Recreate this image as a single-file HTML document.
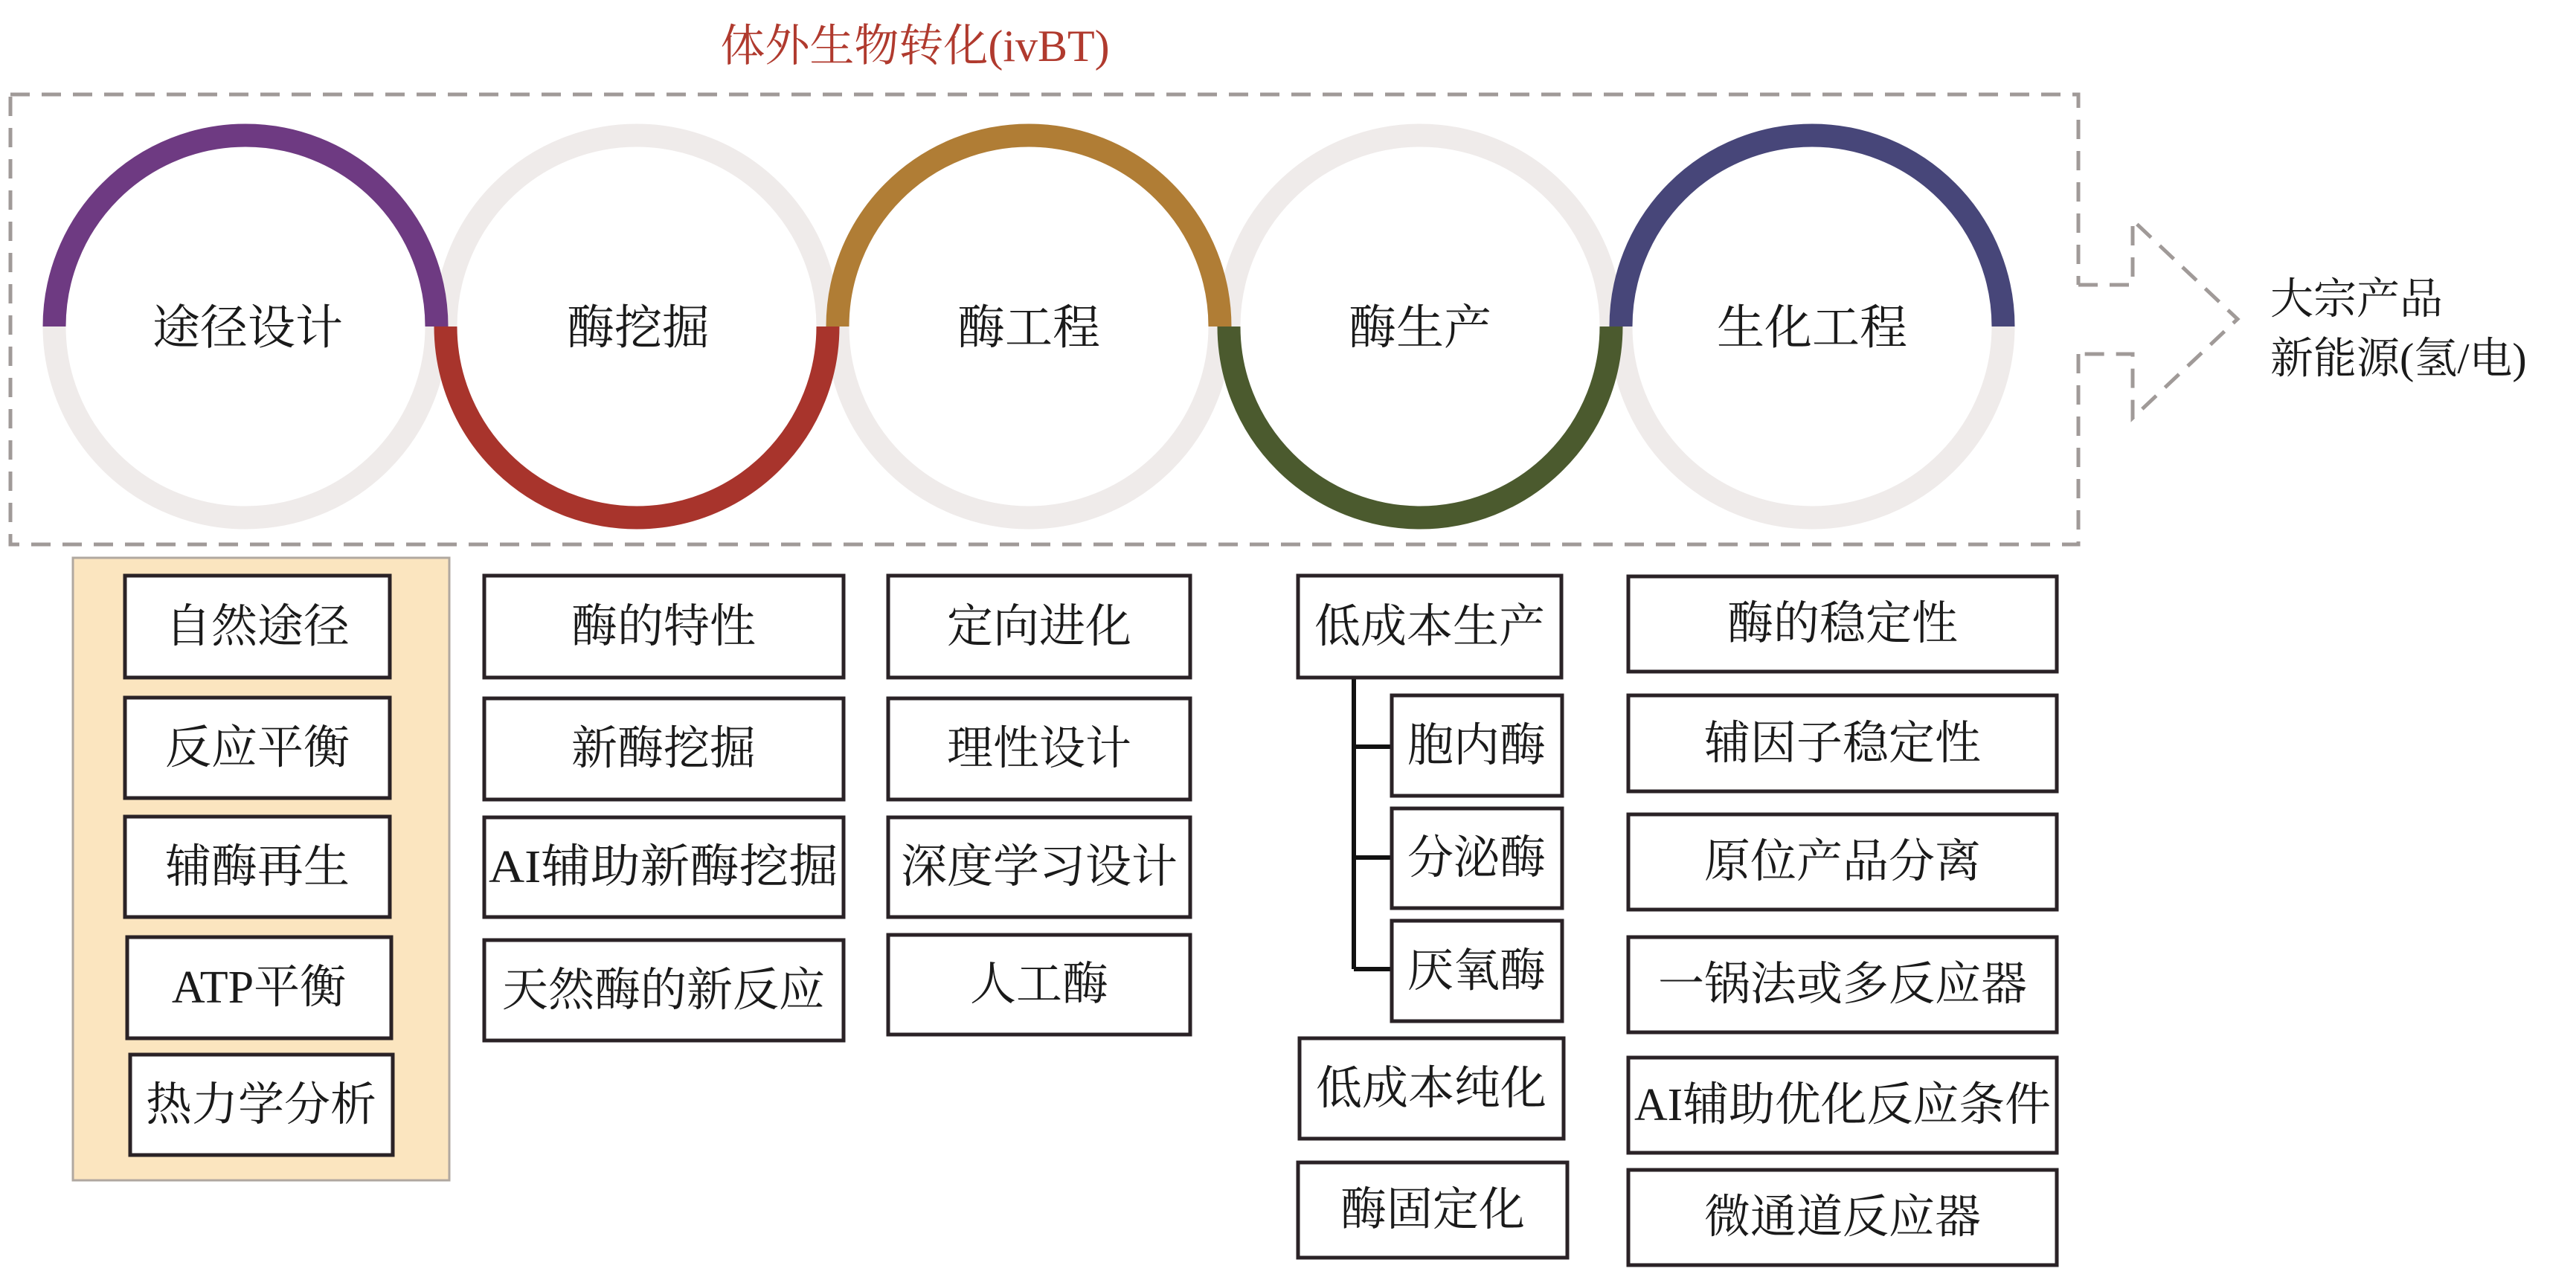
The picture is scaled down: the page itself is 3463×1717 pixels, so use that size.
<!DOCTYPE html>
<html><head><meta charset="utf-8"><style>
html,body{margin:0;padding:0;background:#fff}
svg{display:block}
text{font-family:"Liberation Serif","Noto Serif CJK SC","Noto Sans CJK SC",serif;fill:#1a1a1a}
</style></head><body>
<svg width="3463" height="1717" viewBox="0 0 3463 1717" xmlns="http://www.w3.org/2000/svg">
<text x="1230" y="62" font-size="60" text-anchor="middle" dominant-baseline="central" style="fill:#b03a2e">体外生物转化(ivBT)</text>
<!-- dashed box -->
<g fill="none" stroke="#a09a98" stroke-width="5" stroke-dasharray="26,16">
<path d="M14,127 H2794 V383"/>
<path d="M2794,476 V732 H14 V127"/>
<path d="M2794,383 H2867 V296 L3008,429 L2867,562 V476 H2794"/>
</g>
<!-- circles -->
<g fill="none" stroke="#efebea" stroke-width="31">
<circle cx="330" cy="439" r="257"/>
<circle cx="856" cy="439" r="257"/>
<circle cx="1383" cy="439" r="257"/>
<circle cx="1909" cy="439" r="257"/>
<circle cx="2436" cy="439" r="257"/>
</g>
<g fill="none" stroke-width="31">
<path d="M73,439 A257,257 0 0 1 587,439" stroke="#6e3a82"/>
<path d="M599,439 A257,257 0 0 0 1113,439" stroke="#a8342c"/>
<path d="M1126,439 A257,257 0 0 1 1640,439" stroke="#b07d35"/>
<path d="M1652,439 A257,257 0 0 0 2166,439" stroke="#4b5a2e"/>
<path d="M2179,439 A257,257 0 0 1 2693,439" stroke="#474679"/>
</g>
<g font-size="64" text-anchor="middle" dominant-baseline="central">
<text x="333" y="441">途径设计</text>
<text x="858" y="441">酶挖掘</text>
<text x="1383" y="441">酶工程</text>
<text x="1909" y="441">酶生产</text>
<text x="2436" y="441">生化工程</text>
</g>
<g font-size="58" dominant-baseline="central">
<text x="3052" y="402">大宗产品</text>
<text x="3052" y="482">新能源(氢/电)</text>
</g>
<!-- beige panel -->
<rect x="98" y="750" width="506" height="837" fill="#fbe5bf" stroke="#b0a8a0" stroke-width="3"/>
<!-- tree lines -->
<g stroke="#111" stroke-width="6" fill="none">
<path d="M1820,911 V1303"/>
<path d="M1820,1004 H1871 M1820,1153 H1871 M1820,1303 H1871"/>
</g>
<g fill="#fff" stroke="#2a2226" stroke-width="5">
<rect x="168" y="774" width="356" height="137"/>
<rect x="168" y="938" width="356" height="135"/>
<rect x="168" y="1098" width="356" height="135"/>
<rect x="171" y="1260" width="355" height="136"/>
<rect x="175" y="1418" width="353" height="135"/>
<rect x="651" y="774" width="483" height="137"/>
<rect x="651" y="939" width="483" height="136"/>
<rect x="651" y="1099" width="483" height="134"/>
<rect x="651" y="1264" width="483" height="135"/>
<rect x="1194" y="774" width="406" height="137"/>
<rect x="1194" y="939" width="406" height="136"/>
<rect x="1194" y="1099" width="406" height="134"/>
<rect x="1194" y="1257" width="406" height="134"/>
<rect x="1745" y="774" width="354" height="137"/>
<rect x="1871" y="935" width="229" height="135"/>
<rect x="1871" y="1087" width="229" height="134"/>
<rect x="1871" y="1238" width="229" height="135"/>
<rect x="1747" y="1396" width="355" height="135"/>
<rect x="1745" y="1563" width="362" height="128"/>
<rect x="2189" y="775" width="576" height="128"/>
<rect x="2189" y="935" width="576" height="129"/>
<rect x="2189" y="1095" width="576" height="128"/>
<rect x="2189" y="1260" width="576" height="128"/>
<rect x="2189" y="1422" width="576" height="128"/>
<rect x="2189" y="1573" width="576" height="128"/>
</g>
<g font-size="62" text-anchor="middle" dominant-baseline="central">
<text x="346" y="843">自然途径</text>
<text x="346" y="1006">反应平衡</text>
<text x="346" y="1166">辅酶再生</text>
<text x="348" y="1328">ATP平衡</text>
<text x="351" y="1486">热力学分析</text>
<text x="892" y="843">酶的特性</text>
<text x="892" y="1007">新酶挖掘</text>
<text x="892" y="1166" textLength="470" lengthAdjust="spacingAndGlyphs">AI辅助新酶挖掘</text>
<text x="892" y="1332">天然酶的新反应</text>
<text x="1397" y="843">定向进化</text>
<text x="1397" y="1007">理性设计</text>
<text x="1397" y="1166">深度学习设计</text>
<text x="1397" y="1324">人工酶</text>
<text x="1922" y="843">低成本生产</text>
<text x="1985" y="1003">胞内酶</text>
<text x="1985" y="1154">分泌酶</text>
<text x="1985" y="1306">厌氧酶</text>
<text x="1924" y="1464">低成本纯化</text>
<text x="1926" y="1627">酶固定化</text>
<text x="2477" y="839">酶的稳定性</text>
<text x="2477" y="1000">辅因子稳定性</text>
<text x="2477" y="1159">原位产品分离</text>
<text x="2477" y="1324">一锅法或多反应器</text>
<text x="2477" y="1486" textLength="560" lengthAdjust="spacingAndGlyphs">AI辅助优化反应条件</text>
<text x="2477" y="1637">微通道反应器</text>
</g>
</svg>
</body></html>
